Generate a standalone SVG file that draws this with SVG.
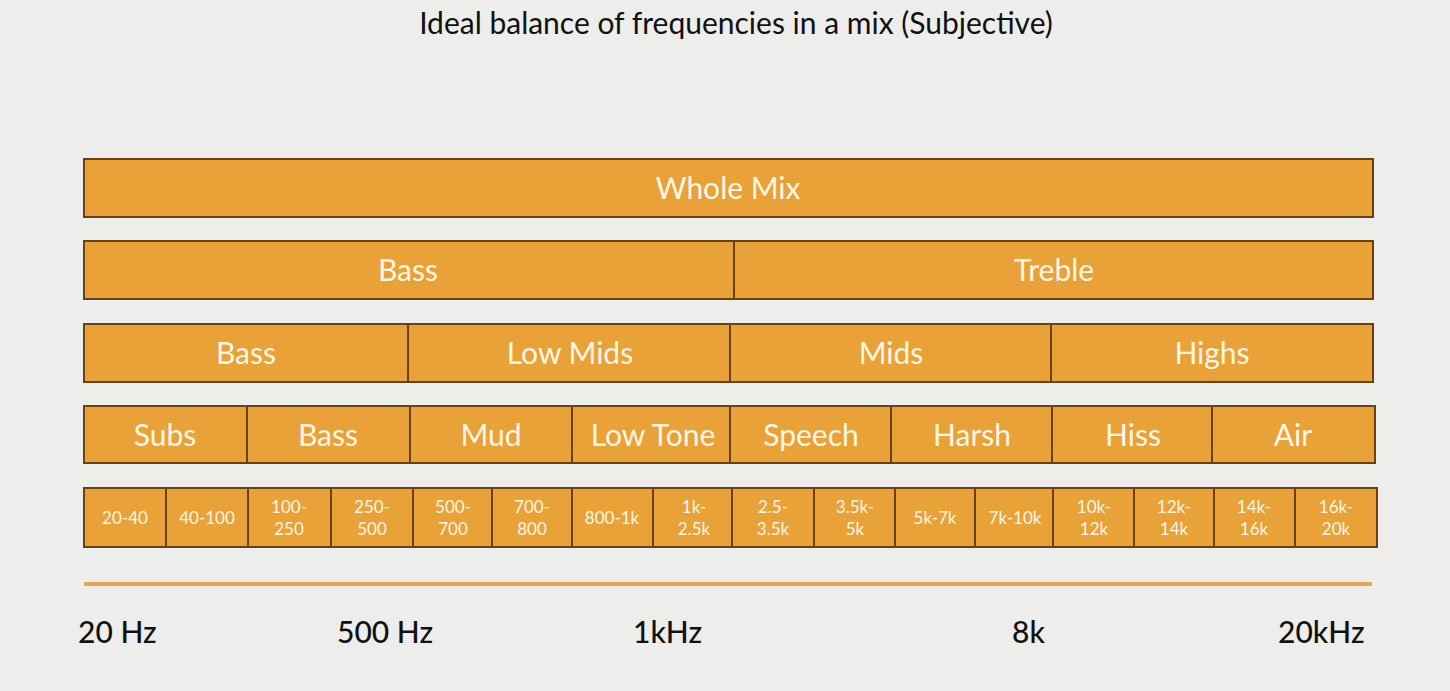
<svg xmlns="http://www.w3.org/2000/svg" width="1450" height="691" viewBox="0 0 1450 691">
<style>
.box{fill:#e8a238;stroke:#6a4210;stroke-width:2}
.lbl{font-family:Lato,"Open Sans","Liberation Sans",sans-serif;font-size:30px;fill:#fdf6e6;text-anchor:middle}
.sm{font-family:Lato,"Open Sans","Liberation Sans",sans-serif;font-size:17px;fill:#fdf6e6;text-anchor:middle}
.ax{font-family:Lato,"Open Sans","Liberation Sans",sans-serif;font-size:30px;fill:#111;font-weight:500}
.title{font-family:Lato,"Open Sans","Liberation Sans",sans-serif;font-size:30px;fill:#111;text-anchor:middle}
</style>
<rect width="1450" height="691" fill="#ededeb"/>
<text class="title" x="736" y="34">Ideal balance of frequencies in a mix (Subjective)</text>
<g id="row1">
<g id="whole"><rect class="box" x="84" y="159" width="1289" height="58"/><text class="lbl" x="728" y="199">Whole Mix</text></g>
</g>
<g id="row2">
<g id="r2-bass"><rect class="box" x="84" y="241" width="650" height="58"/><text class="lbl" x="408" y="281">Bass</text></g>
<g id="r2-treble"><rect class="box" x="734" y="241" width="639" height="58"/><text class="lbl" x="1054" y="281">Treble</text></g>
</g>
<g id="row3">
<g id="r3-bass"><rect class="box" x="84" y="324" width="324" height="58"/><text class="lbl" x="246" y="364">Bass</text></g>
<g id="r3-lowmids"><rect class="box" x="408" y="324" width="322" height="58"/><text class="lbl" x="570" y="364">Low Mids</text></g>
<g id="r3-mids"><rect class="box" x="730" y="324" width="321" height="58"/><text class="lbl" x="891" y="364">Mids</text></g>
<g id="r3-highs"><rect class="box" x="1051" y="324" width="322" height="58"/><text class="lbl" x="1212" y="364">Highs</text></g>
</g>
<g id="row4">
<g id="subs"><rect class="box" x="84" y="406" width="163" height="57"/><text class="lbl" x="165" y="446">Subs</text></g>
<g id="r4-bass"><rect class="box" x="247" y="406" width="163" height="57"/><text class="lbl" x="328" y="446">Bass</text></g>
<g id="mud"><rect class="box" x="410" y="406" width="162" height="57"/><text class="lbl" x="491" y="446">Mud</text></g>
<g id="lowtone"><rect class="box" x="572" y="406" width="158" height="57"/><text class="lbl" x="653" y="446">Low Tone</text></g>
<g id="speech"><rect class="box" x="730" y="406" width="161" height="57"/><text class="lbl" x="811" y="446">Speech</text></g>
<g id="harsh"><rect class="box" x="891" y="406" width="161" height="57"/><text class="lbl" x="972" y="446">Harsh</text></g>
<g id="hiss"><rect class="box" x="1052" y="406" width="160" height="57"/><text class="lbl" x="1133" y="446">Hiss</text></g>
<g id="air"><rect class="box" x="1212" y="406" width="163" height="57"/><text class="lbl" x="1293" y="446">Air</text></g>
</g>
<g id="row5">
<g id="b1"><rect class="box" x="84" y="488" width="82" height="59"/><text class="sm" x="125" y="524">20-40</text></g>
<g id="b2"><rect class="box" x="166" y="488" width="82" height="59"/><text class="sm" x="207" y="524">40-100</text></g>
<g id="b3"><rect class="box" x="248" y="488" width="83" height="59"/><text class="sm" x="289" y="513">100-</text><text class="sm" x="289" y="535">250</text></g>
<g id="b4"><rect class="box" x="331" y="488" width="82" height="59"/><text class="sm" x="372" y="513">250-</text><text class="sm" x="372" y="535">500</text></g>
<g id="b5"><rect class="box" x="413" y="488" width="79" height="59"/><text class="sm" x="453" y="513">500-</text><text class="sm" x="453" y="535">700</text></g>
<g id="b6"><rect class="box" x="492" y="488" width="80" height="59"/><text class="sm" x="532" y="513">700-</text><text class="sm" x="532" y="535">800</text></g>
<g id="b7"><rect class="box" x="572" y="488" width="81" height="59"/><text class="sm" x="612" y="524">800-1k</text></g>
<g id="b8"><rect class="box" x="653" y="488" width="79" height="59"/><text class="sm" x="694" y="513">1k-</text><text class="sm" x="694" y="535">2.5k</text></g>
<g id="b9"><rect class="box" x="732" y="488" width="82" height="59"/><text class="sm" x="773" y="513">2.5-</text><text class="sm" x="773" y="535">3.5k</text></g>
<g id="b10"><rect class="box" x="814" y="488" width="81" height="59"/><text class="sm" x="855" y="513">3.5k-</text><text class="sm" x="855" y="535">5k</text></g>
<g id="b11"><rect class="box" x="895" y="488" width="80" height="59"/><text class="sm" x="935" y="524">5k-7k</text></g>
<g id="b12"><rect class="box" x="975" y="488" width="78" height="59"/><text class="sm" x="1015" y="524">7k-10k</text></g>
<g id="b13"><rect class="box" x="1053" y="488" width="81" height="59"/><text class="sm" x="1094" y="513">10k-</text><text class="sm" x="1094" y="535">12k</text></g>
<g id="b14"><rect class="box" x="1134" y="488" width="80" height="59"/><text class="sm" x="1174" y="513">12k-</text><text class="sm" x="1174" y="535">14k</text></g>
<g id="b15"><rect class="box" x="1214" y="488" width="81" height="59"/><text class="sm" x="1254" y="513">14k-</text><text class="sm" x="1254" y="535">16k</text></g>
<g id="b16"><rect class="box" x="1295" y="488" width="82" height="59"/><text class="sm" x="1336" y="513">16k-</text><text class="sm" x="1336" y="535">20k</text></g>
</g>
<g id="connectors">
<line x1="84" y1="584" x2="1372" y2="584" stroke="#e2a552" stroke-width="4"/>
</g>
<g id="axis">
<text class="ax" x="78" y="643">20 Hz</text>
<text class="ax" x="337" y="643">500 Hz</text>
<text class="ax" x="633" y="643">1kHz</text>
<text class="ax" x="1012" y="643">8k</text>
<text class="ax" x="1278" y="643">20kHz</text>
</g>
</svg>
